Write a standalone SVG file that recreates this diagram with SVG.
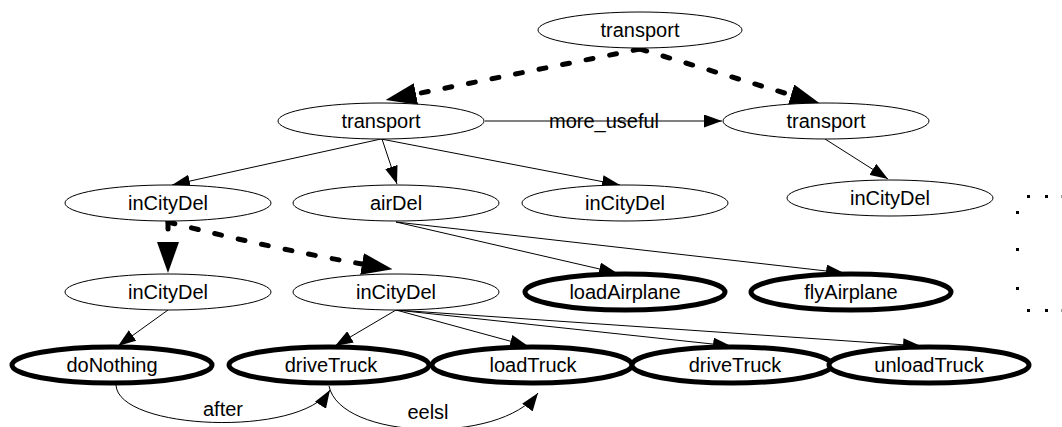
<svg xmlns="http://www.w3.org/2000/svg" width="1062" height="427" viewBox="0 0 1062 427">
  <style>
    text { font-family: "Liberation Sans", Arial, sans-serif; font-size: 20px; fill: #000; text-anchor: middle; }
    .node { fill: #fff; stroke: #000; stroke-width: 1; }
    .prim { fill: #fff; stroke: #000; stroke-width: 5; }
    .edge { fill: none; stroke: #000; stroke-width: 1; marker-end: url(#arr); }
    .dash { fill: none; stroke: #000; stroke-width: 5; stroke-linecap: round; stroke-dasharray: 7 17; marker-end: url(#bigarr); }
    .dot { fill: #000; }
  </style>
  <defs>
    <marker id="arr" viewBox="0 0 18 13" refX="18" refY="6.5" markerWidth="18" markerHeight="13" markerUnits="userSpaceOnUse" orient="auto">
      <path d="M0,0 L18,6.5 L0,13 z" fill="#000"/>
    </marker>
    <marker id="bigarr" viewBox="0 0 31 22" refX="0" refY="11" markerWidth="31" markerHeight="22" markerUnits="userSpaceOnUse" orient="auto">
      <path d="M0,0 L31,11 L0,22 z" fill="#000"/>
    </marker>
  </defs>

  <!-- connectors -->
  <g id="connectors">
    <path class="dash" d="M640,49 L416,94"/>
    <path class="dash" d="M640,49 L791,95"/>
    <path class="edge" d="M485,121 L722,121"/>
    <path class="edge" d="M381,139 L172,185"/>
    <path class="edge" d="M382,139 L397,184"/>
    <path class="edge" d="M381,139 L620,185"/>
    <path class="edge" d="M825,139 L888,179"/>
    <path class="dash" d="M168,222 L168,242"/>
    <path class="dash" d="M168,222 Q270,248 362,264"/>
    <path class="edge" d="M396,222 L617,273"/>
    <path class="edge" d="M396,222 L844,273"/>
    <path class="edge" d="M168,310 L118,346"/>
    <path class="edge" d="M396,310 L335,346"/>
    <path class="edge" d="M396,310 L528,346"/>
    <path class="edge" d="M396,310 L731,346"/>
    <path class="edge" d="M396,310 L921,346"/>
    <path class="edge" d="M116,385 C118,430 300,438 330,390"/>
    <path class="edge" d="M329,386 C340,440 500,445 538,393"/>
    <text x="604" y="128">more_useful</text>
    <text x="223" y="416">after</text>
    <text x="428" y="419">eelsl</text>
  </g>

  <!-- nodes -->
  <g id="n_transport_top"><ellipse class="node" cx="640" cy="30" rx="102" ry="18"/><text x="640" y="37">transport</text></g>
  <g id="n_transport_left"><ellipse class="node" cx="381" cy="121" rx="103" ry="18"/><text x="381" y="128">transport</text></g>
  <g id="n_transport_right"><ellipse class="node" cx="826" cy="121" rx="103" ry="18"/><text x="826" y="128">transport</text></g>

  <g id="n_inCityDel_a"><ellipse class="node" cx="168" cy="203" rx="103" ry="18"/><text x="168" y="210">inCityDel</text></g>
  <g id="n_airDel"><ellipse class="node" cx="396" cy="203" rx="103" ry="18"/><text x="396" y="210">airDel</text></g>
  <g id="n_inCityDel_b"><ellipse class="node" cx="625" cy="203" rx="103" ry="18"/><text x="625" y="210">inCityDel</text></g>
  <g id="n_inCityDel_c"><ellipse class="node" cx="890" cy="198" rx="103" ry="18"/><text x="890" y="205">inCityDel</text></g>

  <g id="n_inCityDel_d"><ellipse class="node" cx="168" cy="292" rx="103" ry="18"/><text x="168" y="299">inCityDel</text></g>
  <g id="n_inCityDel_e"><ellipse class="node" cx="396" cy="292" rx="103" ry="18"/><text x="396" y="299">inCityDel</text></g>
  <g id="n_loadAirplane"><ellipse class="prim" cx="625" cy="292" rx="100" ry="18"/><text x="625" y="299">loadAirplane</text></g>
  <g id="n_flyAirplane"><ellipse class="prim" cx="851" cy="292" rx="100" ry="18"/><text x="851" y="299">flyAirplane</text></g>

  <g id="n_doNothing"><ellipse class="prim" cx="112" cy="365" rx="100" ry="18"/><text x="112" y="372">doNothing</text></g>
  <g id="n_driveTruck_a"><ellipse class="prim" cx="329" cy="365" rx="100" ry="18"/><text x="331" y="372">driveTruck</text></g>
  <g id="n_loadTruck"><ellipse class="prim" cx="532" cy="365" rx="100" ry="18"/><text x="533" y="372">loadTruck</text></g>
  <g id="n_driveTruck_b"><ellipse class="prim" cx="732" cy="365" rx="100" ry="18"/><text x="735" y="372">driveTruck</text></g>
  <g id="n_unloadTruck"><ellipse class="prim" cx="929" cy="365" rx="100" ry="18"/><text x="929" y="372">unloadTruck</text></g>

  <!-- dotted bracket at the right margin -->
  <g id="ellipsis">
    <rect class="dot" x="1027" y="195" width="3" height="3"/>
    <rect class="dot" x="1045" y="195" width="3" height="3"/>
    <rect class="dot" x="1061" y="195" width="3" height="3" opacity="0.4"/>
    <rect class="dot" x="1016" y="211" width="3" height="3"/>
    <rect class="dot" x="1016" y="248" width="3" height="3"/>
    <rect class="dot" x="1016" y="287" width="3" height="3"/>
    <rect class="dot" x="1027" y="309" width="3" height="3"/>
    <rect class="dot" x="1045" y="309" width="3" height="3"/>
    <rect class="dot" x="1061" y="309" width="3" height="3" opacity="0.4"/>
  </g>
</svg>
